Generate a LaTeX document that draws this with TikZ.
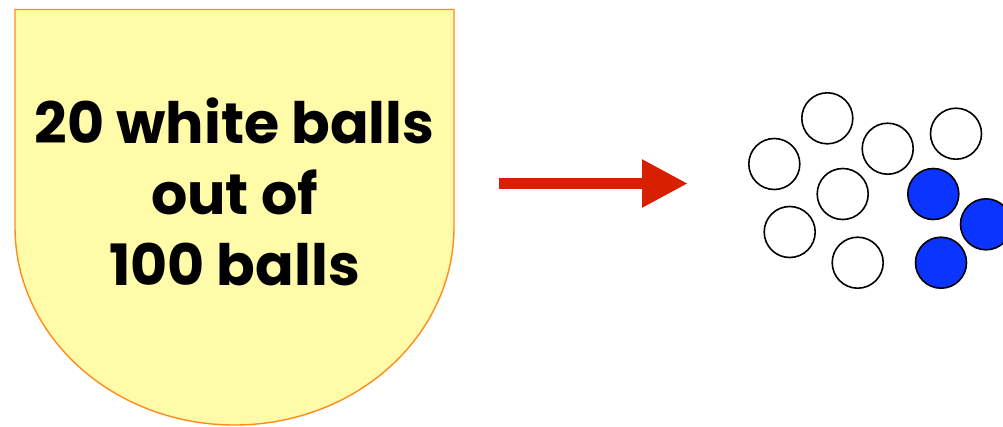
\documentclass[tikz,border=0pt]{standalone}
\usepackage{fontspec}
\setmainfont{Poppins}
\usetikzlibrary{arrows.meta}
\definecolor{urnfill}{RGB}{255,251,168}
\definecolor{urnline}{RGB}{255,140,26}
\definecolor{arrowred}{RGB}{216,32,0}
\definecolor{ballblue}{RGB}{12,52,255}
\tikzset{
  ball/.style={circle,draw=black,line width=1.6pt,minimum size=51pt,inner sep=0pt,fill=white},
  blueball/.style={ball,fill=ballblue},
  urn/.style={fill=urnfill,draw=urnline,line width=1.4pt},
  bigarrow/.style={draw=arrowred,line width=11.6pt,-{Triangle[length=46pt,width=45pt]},arrowred}
}
\begin{document}
\begin{tikzpicture}[x=1pt,y=-1pt]
\useasboundingbox (0,0) rectangle (1003,426);
\path[urn] (15,9.5) -- (454,9.5) -- (454,227) arc[start angle=0,end angle=180,x radius=219.5,y radius=198] -- cycle;
\node[align=center,font=\fontsize{57}{71}\selectfont\bfseries] (txt) at (234.5,192) {20 white balls\\out of\\100 balls};
\coordinate (a) at (499,183.5);
\coordinate (b) at (688,183.5);
\draw[bigarrow] (a) -- (b);
\node[ball] (w1) at (827.3,118.3) {};
\node[ball] (w2) at (774.3,164) {};
\node[ball] (w3) at (887.7,148.7) {};
\node[ball] (w4) at (956,133.7) {};
\node[ball] (w5) at (842.7,194) {};
\node[ball] (w6) at (789.7,232) {};
\node[ball] (w7) at (857.7,262.7) {};
\node[blueball] (b1) at (933.3,194) {};
\node[blueball] (b2) at (986,224.3) {};
\node[blueball] (b3) at (941,262.7) {};
\end{tikzpicture}
\end{document}
